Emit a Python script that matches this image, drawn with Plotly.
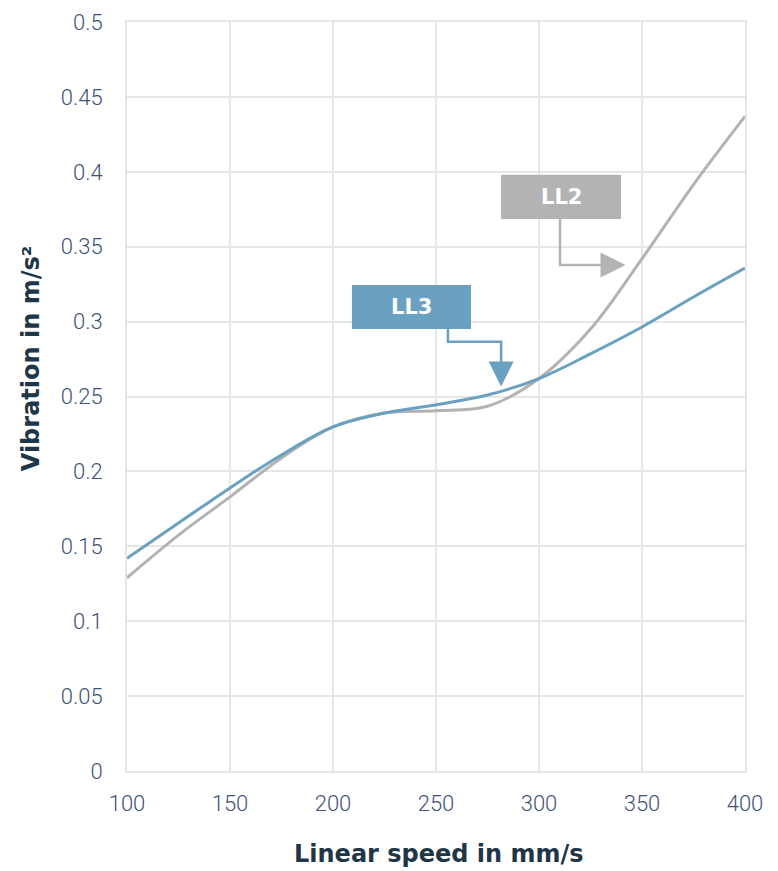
import plotly.graph_objects as go

speed = [100, 125, 150, 175, 200, 225, 250, 275, 300, 325, 350, 375, 400]
ll2 = [0.129, 0.1575, 0.183, 0.209, 0.2297, 0.239, 0.2405, 0.2435, 0.262, 0.295, 0.342, 0.3915, 0.437]
ll3 = [0.142, 0.1655, 0.189, 0.211, 0.2297, 0.239, 0.2445, 0.251, 0.262, 0.2785, 0.2964, 0.3164, 0.3357]

x_ticks = [100, 150, 200, 250, 300, 350, 400]
y_ticks = [0, 0.05, 0.1, 0.15, 0.2, 0.25, 0.3, 0.35, 0.4, 0.45, 0.5]
y_labels = ["0", "0.05", "0.1", "0.15", "0.2", "0.25", "0.3", "0.35", "0.4", "0.45", "0.5"]

GRAY = "#b3b3b3"
BLUE = "#6aa0c0"
GRID = "#e6e6e6"
TICK = "#3e5278"
TITLE = "#1f3647"
BOLD_FONT = "DejaVu Sans, Inter"

fig = go.Figure()
fig.add_trace(go.Scatter(x=speed, y=ll2, mode="lines", name="LL2",
                         line=dict(color=GRAY, width=3, shape="spline", smoothing=1)))
fig.add_trace(go.Scatter(x=speed, y=ll3, mode="lines", name="LL3",
                         line=dict(color=BLUE, width=3, shape="spline", smoothing=1)))

# label boxes
fig.add_shape(type="rect", xref="x", yref="y", x0=281.6, x1=339.8, y0=0.3685, y1=0.398,
              fillcolor=GRAY, line=dict(width=0), layer="above")
fig.add_shape(type="rect", xref="x", yref="y", x0=209.2, x1=267.0, y0=0.295, y1=0.3244,
              fillcolor=BLUE, line=dict(width=0), layer="above")
fig.add_annotation(x=310.7, y=0.3833, xref="x", yref="y", text="<b>LL2</b>", showarrow=False,
                   font=dict(family=BOLD_FONT, size=21, color="white", weight=700))
fig.add_annotation(x=238.1, y=0.3097, xref="x", yref="y", text="<b>LL3</b>", showarrow=False,
                   font=dict(family=BOLD_FONT, size=21, color="white", weight=700))

# connectors
fig.add_shape(type="path", xref="x", yref="y",
              path="M 310.2 0.3685 L 310.2 0.3378 L 336 0.3378",
              line=dict(color=GRAY, width=2.5), layer="above")
fig.add_annotation(x=342.0, y=0.3378, ax=333, ay=0.3378, xref="x", yref="y", axref="x", ayref="y",
                   text="", showarrow=True, arrowhead=2, arrowsize=2, arrowwidth=2.5,
                   arrowcolor=GRAY, standoff=0)
fig.add_shape(type="path", xref="x", yref="y",
              path="M 255.8 0.295 L 255.8 0.2866 L 281.6 0.2866 L 281.6 0.266",
              line=dict(color=BLUE, width=2.5), layer="above")
fig.add_annotation(x=281.6, y=0.2567, ax=281.6, ay=0.270, xref="x", yref="y", axref="x", ayref="y",
                   text="", showarrow=True, arrowhead=2, arrowsize=2, arrowwidth=2.5,
                   arrowcolor=BLUE, standoff=0)

# axis titles
fig.add_annotation(x=0.505, y=-0.111, xref="paper", yref="paper", text="<b>Linear speed in mm/s</b>",
                   showarrow=False, font=dict(family=BOLD_FONT, size=24, color=TITLE, weight=700),
                   xanchor="center", yanchor="middle")
fig.add_annotation(x=-0.155, y=0.55, xref="paper", yref="paper", text="<b>Vibration in m/s²</b>",
                   showarrow=False, textangle=-90,
                   font=dict(family=BOLD_FONT, size=24, color=TITLE, weight=700),
                   xanchor="center", yanchor="middle")

fig.update_xaxes(range=[100, 400], tickvals=x_ticks, showgrid=True, gridcolor=GRID, gridwidth=2,
                 showline=True, linecolor=GRID, linewidth=2, mirror=True, zeroline=False,
                 ticks="outside", ticklen=12, tickcolor="rgba(0,0,0,0)", automargin=False,
                 tickfont=dict(family="Roboto", size=22, color=TICK, weight=300))
fig.update_yaxes(range=[0, 0.5], tickvals=y_ticks, ticktext=y_labels, showgrid=True, gridcolor=GRID,
                 gridwidth=2, showline=True, linecolor=GRID, linewidth=2, mirror=True, zeroline=False,
                 ticks="outside", ticklen=18, tickcolor="rgba(0,0,0,0)", automargin=False,
                 tickfont=dict(family="Roboto", size=22, color=TICK, weight=300))

fig.update_layout(width=778, height=871, margin=dict(l=119, r=41, t=14, b=108),
                  plot_bgcolor="white", paper_bgcolor="white", showlegend=False)

fig.write_html("out.html")
